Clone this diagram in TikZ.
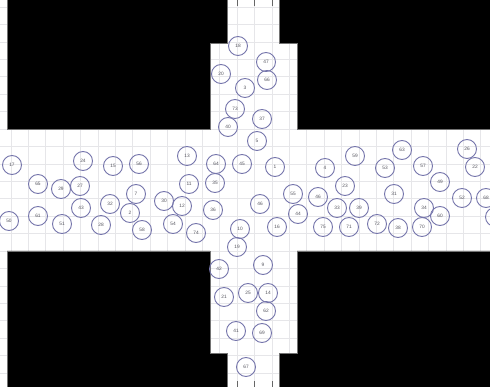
\documentclass[tikz,border=0pt]{standalone}
\usepackage{fontspec}
\setsansfont{Liberation Sans}
\usetikzlibrary{positioning}

\definecolor{ringc}{RGB}{118,118,172}
\definecolor{gridc}{RGB}{230,230,233}
\definecolor{labelc}{RGB}{85,85,95}

\tikzset{
  agent/.style={shape=circle, draw=ringc, line width=0.9pt, minimum size=19pt, inner sep=0pt,
    text=labelc, font=\fontsize{4.8}{5}\sffamily},
  wall/.style={fill=black, draw=black!55, line width=0.5pt},
  gridline/.style={draw=gridc, line width=0.5pt},
  tick/.style={draw=black!60, line width=0.6pt}
}

\begin{document}
\begin{tikzpicture}[x=1pt, y=-1pt]
			% Area and grid:
			\useasboundingbox (0,0) rectangle (490,387);
			\fill[white] (0,0) rectangle (490,387);
			\foreach \k in {-7,...,15} \draw[gridline] (0,129+17.43*\k) -- (490,129+17.43*\k);
			\foreach \k in {-13,...,14} \draw[gridline] (237+17.4*\k,0) -- (237+17.4*\k,387);
			% Walls:
			\draw[wall] (7,-1) -- (227,-1) -- (227,43) -- (210,43) -- (210,129) -- (7,129) -- cycle;
			\draw[wall] (279,-1) -- (491,-1) -- (491,129) -- (297,129) -- (297,43) -- (279,43) -- cycle;
			\draw[wall] (7,388) -- (7,251) -- (210,251) -- (210,353) -- (227,353) -- (227,388) -- cycle;
			\draw[wall] (491,251) -- (297,251) -- (297,353) -- (279,353) -- (279,388) -- (491,388) -- cycle;
			% Exit ticks:
			\foreach \x in {237,254.4,271.8} {\draw[tick] (\x,0) -- (\x,6); \draw[tick] (\x,381) -- (\x,387);}
			% Upper corridor:
			\node[agent] (a18) at (238,46) {18};
			\node[agent] (a47) at (266,62) {47};
			\node[agent] (a20) at (221,74) {20};
			\node[agent] (a66) at (267,80) {66};
			\node[agent] (a3) at (245,88) {3};
			\node[agent] (a73) at (235,109) {73};
			\node[agent] (a37) at (262,119) {37};
			\node[agent] (a40) at (228,127) {40};
			\node[agent] (a5) at (257,141) {5};
			% Cross corridor, left:
			\node[agent] (a17) at (12,165) {17};
			\node[agent] (a24) at (83,161) {24};
			\node[agent] (a65) at (38,184) {65};
			\node[agent] (a29) at (61,189) {29};
			\node[agent] (a27) at (80,186) {27};
			\node[agent] (a43) at (81,208) {43};
			\node[agent] (a50) at (9,221) {50};
			\node[agent] (a61) at (38,216) {61};
			\node[agent] (a51) at (62,224) {51};
			\node[agent] (a28) at (101,225) {28};
			\node[agent] (a15) at (113,166) {15};
			\node[agent] (a56) at (139,164) {56};
			\node[agent] (a13) at (187,156) {13};
			\node[agent] (a11) at (189,184) {11};
			\node[agent] (a7) at (136,194) {7};
			\node[agent] (a32) at (110,204) {32};
			\node[agent] (a30) at (164,201) {30};
			\node[agent] (a12) at (182,206) {12};
			\node[agent] (a2) at (130,213) {2};
			\node[agent] (a58) at (142,230) {58};
			\node[agent] (a54) at (173,224) {54};
			\node[agent] (a74) at (196,233) {74};
			% Cross corridor, middle:
			\node[agent] (a64) at (216,164) {64};
			\node[agent] (a45) at (242,164) {45};
			\node[agent] (a1) at (275,167) {1};
			\node[agent] (a35) at (215,183) {35};
			\node[agent] (a36) at (213,210) {36};
			\node[agent] (a48) at (260,204) {46};
			\node[agent] (a55) at (293,194) {55};
			\node[agent] (a44) at (298,214) {44};
			\node[agent] (a16) at (277,227) {16};
			\node[agent] (a10) at (240,229) {10};
			% Cross corridor, right:
			\node[agent] (a59) at (355,156) {59};
			\node[agent] (a4) at (325,168) {4};
			\node[agent] (a53) at (385,168) {53};
			\node[agent] (a23) at (345,186) {23};
			\node[agent] (a46) at (318,197) {46};
			\node[agent] (a33) at (337,208) {33};
			\node[agent] (a39) at (359,208) {39};
			\node[agent] (a75) at (323,227) {75};
			\node[agent] (a71) at (349,227) {71};
			\node[agent] (a72) at (377,224) {72};
			\node[agent] (a63) at (402,150) {63};
			\node[agent] (a26) at (467,149) {26};
			\node[agent] (a57) at (423,166) {57};
			\node[agent] (a22) at (475,167) {22};
			\node[agent] (a49) at (440,182) {49};
			\node[agent] (a31) at (394,194) {31};
			\node[agent] (a52) at (462,198) {52};
			\node[agent] (a68) at (486,198) {68};
			\node[agent] (a34) at (424,208) {34};
			\node[agent] (a60) at (440,216) {60};
			\node[agent] (a38) at (398,228) {38};
			\node[agent] (a70) at (422,227) {70};
			\node[agent] (aedge) at (495,217) {};
			% Lower corridor:
			\node[agent] (a19) at (237,247) {19};
			\node[agent] (a42) at (219,269) {42};
			\node[agent] (a9) at (263,265) {9};
			\node[agent] (a21) at (224,297) {21};
			\node[agent] (a25) at (248,293) {25};
			\node[agent] (a14) at (268,293) {14};
			\node[agent] (a62) at (266,311) {62};
			\node[agent] (a41) at (236,331) {41};
			\node[agent] (a69) at (262,333) {69};
			\node[agent] (a67) at (246,367) {67};
		\end{tikzpicture}
\end{document}
